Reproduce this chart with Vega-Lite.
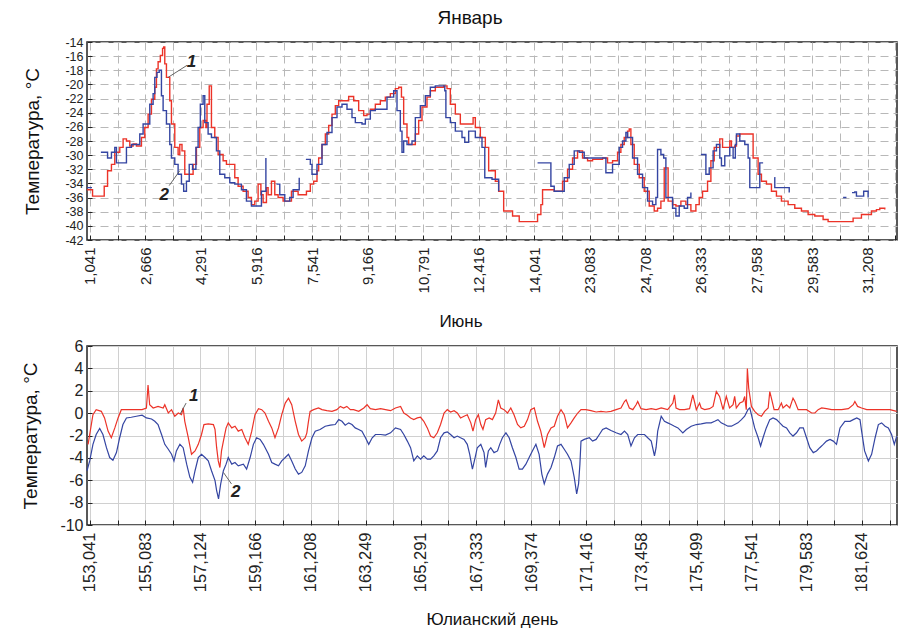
{
  "$schema": "https://vega.github.io/schema/vega-lite/v6.json",
  "background": "white",
  "padding": {"left": 21, "top": 8, "right": 2, "bottom": 0},
  "spacing": 18,
  "config": {
    "font": "Liberation Sans",
    "view": {"stroke": "#222", "strokeWidth": 1.5},
    "axis": {"labelFont": "Liberation Sans", "labelFontSize": 14, "labelColor": "#222", "labelOverlap": false, "tickCount": 100, "titleFont": "Liberation Sans", "titleFontSize": 19, "titleFontWeight": "normal", "titleColor": "#111", "domain": false, "tickColor": "#222", "tickSize": -5, "labelPadding": 9},
    "title": {"font": "Liberation Sans", "fontWeight": "normal", "color": "#111"}
  },
  "datasets": {
    "jan": [
      {"n":-0.5,"t":-34.9,"s":"1"},{"n":0.5,"t":-35.8,"s":"1"},{"n":2.0,"t":-35.8,"s":"1"},{"n":2.6,"t":-34.4,"s":"1"},{"n":3.2,"t":-32.2,"s":"1"},{"n":3.9,"t":-31.3,"s":"1"},{"n":4.5,"t":-29.6,"s":"1"},{"n":5.4,"t":-28.9,"s":"1"},{"n":6.0,"t":-27.7,"s":"1"},{"n":6.6,"t":-28.0,"s":"1"},{"n":7.2,"t":-28.7,"s":"1"},{"n":7.8,"t":-28.4,"s":"1"},{"n":8.4,"t":-28.7,"s":"1"},{"n":9.3,"t":-27.5,"s":"1"},{"n":9.9,"t":-26.1,"s":"1"},{"n":10.5,"t":-24.2,"s":"1"},{"n":11.1,"t":-22.1,"s":"1"},{"n":11.7,"t":-20.4,"s":"1"},{"n":12.0,"t":-17.8,"s":"1"},{"n":12.3,"t":-16.8,"s":"1"},{"n":12.7,"t":-15.9,"s":"1"},{"n":13.1,"t":-14.9,"s":"1"},{"n":13.3,"t":-14.7,"s":"1"},{"n":13.5,"t":-17.1,"s":"1"},{"n":13.8,"t":-19.0,"s":"1"},{"n":14.4,"t":-22.3,"s":"1"},{"n":14.7,"t":-25.6,"s":"1"},{"n":15.3,"t":-28.9,"s":"1"},{"n":15.9,"t":-29.9,"s":"1"},{"n":16.2,"t":-28.5,"s":"1"},{"n":16.6,"t":-29.4,"s":"1"},{"n":17.1,"t":-32.7,"s":"1"},{"n":18.0,"t":-32.7,"s":"1"},{"n":18.6,"t":-31.3,"s":"1"},{"n":19.2,"t":-28.9,"s":"1"},{"n":19.8,"t":-26.1,"s":"1"},{"n":20.4,"t":-25.1,"s":"1"},{"n":20.9,"t":-26.1,"s":"1"},{"n":21.1,"t":-22.8,"s":"1"},{"n":21.5,"t":-20.2,"s":"1"},{"n":21.9,"t":-26.1,"s":"1"},{"n":22.5,"t":-27.5,"s":"1"},{"n":23.1,"t":-29.9,"s":"1"},{"n":24.0,"t":-30.8,"s":"1"},{"n":24.6,"t":-31.3,"s":"1"},{"n":25.2,"t":-31.3,"s":"1"},{"n":26.1,"t":-33.2,"s":"1"},{"n":26.7,"t":-34.4,"s":"1"},{"n":27.6,"t":-35.1,"s":"1"},{"n":28.5,"t":-36.0,"s":"1"},{"n":29.1,"t":-37.0,"s":"1"},{"n":29.7,"t":-36.5,"s":"1"},{"n":30.3,"t":-34.1,"s":"1"},{"n":30.8,"t":-35.6,"s":"1"},{"n":31.2,"t":-36.7,"s":"1"},{"n":31.8,"t":-34.6,"s":"1"},{"n":32.1,"t":-35.6,"s":"1"},{"n":32.7,"t":-33.7,"s":"1"},{"n":33.3,"t":-35.6,"s":"1"},{"n":33.9,"t":-36.0,"s":"1"},{"n":34.8,"t":-36.5,"s":"1"},{"n":35.7,"t":-36.5,"s":"1"},{"n":36.3,"t":-35.1,"s":"1"},{"n":36.9,"t":-35.1,"s":"1"},{"n":37.5,"t":-35.6,"s":"1"},{"n":38.4,"t":-35.6,"s":"1"},{"n":39.0,"t":-35.1,"s":"1"},{"n":39.7,"t":-34.1,"s":"1"},{"n":40.3,"t":-33.7,"s":"1"},{"n":40.9,"t":-32.2,"s":"1"},{"n":41.2,"t":-30.4,"s":"1"},{"n":41.8,"t":-28.5,"s":"1"},{"n":42.4,"t":-27.0,"s":"1"},{"n":43.0,"t":-25.8,"s":"1"},{"n":43.6,"t":-24.2,"s":"1"},{"n":44.2,"t":-23.0,"s":"1"},{"n":44.8,"t":-22.3,"s":"1"},{"n":45.7,"t":-22.3,"s":"1"},{"n":46.6,"t":-21.7,"s":"1"},{"n":47.5,"t":-22.3,"s":"1"},{"n":48.4,"t":-23.7,"s":"1"},{"n":49.3,"t":-24.4,"s":"1"},{"n":49.9,"t":-24.2,"s":"1"},{"n":50.5,"t":-23.5,"s":"1"},{"n":51.4,"t":-22.8,"s":"1"},{"n":52.3,"t":-22.3,"s":"1"},{"n":53.2,"t":-21.8,"s":"1"},{"n":54.1,"t":-21.3,"s":"1"},{"n":55.0,"t":-20.6,"s":"1"},{"n":55.6,"t":-20.4,"s":"1"},{"n":56.1,"t":-21.8,"s":"1"},{"n":56.5,"t":-25.6,"s":"1"},{"n":57.1,"t":-27.5,"s":"1"},{"n":57.4,"t":-28.5,"s":"1"},{"n":58.0,"t":-28.5,"s":"1"},{"n":58.6,"t":-27.0,"s":"1"},{"n":59.2,"t":-25.1,"s":"1"},{"n":59.8,"t":-23.2,"s":"1"},{"n":60.7,"t":-21.8,"s":"1"},{"n":61.3,"t":-20.9,"s":"1"},{"n":62.2,"t":-20.4,"s":"1"},{"n":63.7,"t":-20.2,"s":"1"},{"n":64.3,"t":-20.6,"s":"1"},{"n":64.9,"t":-22.8,"s":"1"},{"n":65.8,"t":-24.2,"s":"1"},{"n":66.7,"t":-25.6,"s":"1"},{"n":67.9,"t":-25.6,"s":"1"},{"n":69.0,"t":-24.7,"s":"1"},{"n":69.4,"t":-26.1,"s":"1"},{"n":70.3,"t":-27.5,"s":"1"},{"n":71.2,"t":-28.9,"s":"1"},{"n":71.8,"t":-32.2,"s":"1"},{"n":73.0,"t":-33.7,"s":"1"},{"n":73.6,"t":-35.1,"s":"1"},{"n":74.5,"t":-37.9,"s":"1"},{"n":75.5,"t":-37.9,"s":"1"},{"n":76.1,"t":-38.6,"s":"1"},{"n":77.3,"t":-39.4,"s":"1"},{"n":79.7,"t":-39.4,"s":"1"},{"n":80.6,"t":-38.4,"s":"1"},{"n":81.2,"t":-37.0,"s":"1"},{"n":81.5,"t":-34.9,"s":"1"},{"n":82.7,"t":-34.9,"s":"1"},{"n":83.6,"t":-35.1,"s":"1"},{"n":84.5,"t":-35.1,"s":"1"},{"n":85.1,"t":-33.7,"s":"1"},{"n":86.0,"t":-32.0,"s":"1"},{"n":86.9,"t":-30.4,"s":"1"},{"n":87.8,"t":-29.4,"s":"1"},{"n":88.7,"t":-30.4,"s":"1"},{"n":89.6,"t":-30.8,"s":"1"},{"n":90.5,"t":-30.6,"s":"1"},{"n":92.3,"t":-30.4,"s":"1"},{"n":93.2,"t":-31.1,"s":"1"},{"n":94.1,"t":-30.8,"s":"1"},{"n":95.0,"t":-29.6,"s":"1"},{"n":95.6,"t":-28.5,"s":"1"},{"n":96.2,"t":-27.5,"s":"1"},{"n":96.8,"t":-26.6,"s":"1"},{"n":97.1,"t":-26.3,"s":"1"},{"n":97.4,"t":-28.5,"s":"1"},{"n":98.0,"t":-31.3,"s":"1"},{"n":98.9,"t":-33.2,"s":"1"},{"n":99.8,"t":-35.1,"s":"1"},{"n":100.7,"t":-37.2,"s":"1"},{"n":101.6,"t":-37.9,"s":"1"},{"n":102.2,"t":-37.5,"s":"1"},{"n":102.8,"t":-36.5,"s":"1"},{"n":103.4,"t":-31.8,"s":"1"},{"n":104.0,"t":-31.8,"s":"1"},{"n":104.1,"t":-36.5,"s":"1"},{"n":104.9,"t":-37.0,"s":"1"},{"n":105.5,"t":-37.2,"s":"1"},{"n":106.4,"t":-36.5,"s":"1"},{"n":107.3,"t":-37.0,"s":"1"},{"n":108.2,"t":-37.9,"s":"1"},{"n":109.1,"t":-37.0,"s":"1"},{"n":109.7,"t":-36.0,"s":"1"},{"n":110.3,"t":-35.1,"s":"1"},{"n":111.2,"t":-33.7,"s":"1"},{"n":111.8,"t":-30.8,"s":"1"},{"n":112.4,"t":-28.9,"s":"1"},{"n":113.4,"t":-27.7,"s":"1"},{"n":113.9,"t":-28.9,"s":"1"},{"n":114.5,"t":-28.9,"s":"1"},{"n":115.2,"t":-28.0,"s":"1"},{"n":115.5,"t":-28.9,"s":"1"},{"n":116.1,"t":-28.7,"s":"1"},{"n":116.4,"t":-27.3,"s":"1"},{"n":117.0,"t":-27.0,"s":"1"},{"n":118.8,"t":-27.0,"s":"1"},{"n":119.4,"t":-30.4,"s":"1"},{"n":120.3,"t":-32.7,"s":"1"},{"n":120.9,"t":-33.7,"s":"1"},{"n":121.8,"t":-34.1,"s":"1"},{"n":122.7,"t":-35.1,"s":"1"},{"n":123.6,"t":-35.8,"s":"1"},{"n":124.5,"t":-36.5,"s":"1"},{"n":125.7,"t":-37.0,"s":"1"},{"n":126.9,"t":-37.5,"s":"1"},{"n":128.1,"t":-37.9,"s":"1"},{"n":129.3,"t":-38.4,"s":"1"},{"n":130.5,"t":-38.6,"s":"1"},{"n":132.0,"t":-39.1,"s":"1"},{"n":132.9,"t":-39.4,"s":"1"},{"n":136.5,"t":-39.4,"s":"1"},{"n":137.4,"t":-38.9,"s":"1"},{"n":138.9,"t":-38.4,"s":"1"},{"n":140.7,"t":-37.9,"s":"1"},{"n":141.6,"t":-37.7,"s":"1"},{"n":142.2,"t":-37.5,"s":"1"},{"n":143.1,"t":-37.7,"s":"1"},
      {"n":-0.5,"t":-34.6,"s":"2"},{"n":0.4,"t":-34.6,"s":"2"},{"n":1.0,"t":null,"s":"2"},{"n":2.0,"t":-29.6,"s":"2"},{"n":2.8,"t":-29.6,"s":"2"},{"n":3.2,"t":-30.4,"s":"2"},{"n":3.9,"t":-29.6,"s":"2"},{"n":4.5,"t":-28.9,"s":"2"},{"n":4.8,"t":-31.1,"s":"2"},{"n":6.4,"t":-31.1,"s":"2"},{"n":6.6,"t":-28.9,"s":"2"},{"n":7.5,"t":-28.5,"s":"2"},{"n":8.4,"t":-28.5,"s":"2"},{"n":9.0,"t":-27.0,"s":"2"},{"n":9.6,"t":-25.6,"s":"2"},{"n":10.8,"t":-22.8,"s":"2"},{"n":11.4,"t":-21.3,"s":"2"},{"n":11.7,"t":-19.0,"s":"2"},{"n":12.1,"t":-18.3,"s":"2"},{"n":12.5,"t":-18.0,"s":"2"},{"n":12.9,"t":-21.6,"s":"2"},{"n":13.2,"t":-23.7,"s":"2"},{"n":13.8,"t":-25.6,"s":"2"},{"n":14.4,"t":-28.5,"s":"2"},{"n":14.7,"t":-30.4,"s":"2"},{"n":15.3,"t":-31.3,"s":"2"},{"n":15.9,"t":-32.7,"s":"2"},{"n":16.5,"t":-34.1,"s":"2"},{"n":16.9,"t":-35.1,"s":"2"},{"n":17.4,"t":-33.7,"s":"2"},{"n":17.9,"t":-31.3,"s":"2"},{"n":18.5,"t":-32.0,"s":"2"},{"n":19.1,"t":-28.9,"s":"2"},{"n":19.5,"t":-26.1,"s":"2"},{"n":19.9,"t":-22.8,"s":"2"},{"n":20.4,"t":-21.6,"s":"2"},{"n":20.7,"t":-25.4,"s":"2"},{"n":21.3,"t":-27.0,"s":"2"},{"n":21.9,"t":-27.5,"s":"2"},{"n":22.8,"t":-29.4,"s":"2"},{"n":23.4,"t":-32.7,"s":"2"},{"n":24.3,"t":-33.2,"s":"2"},{"n":25.2,"t":-33.9,"s":"2"},{"n":26.1,"t":-34.1,"s":"2"},{"n":27.3,"t":-34.9,"s":"2"},{"n":28.2,"t":-36.5,"s":"2"},{"n":29.1,"t":-37.2,"s":"2"},{"n":30.0,"t":-37.2,"s":"2"},{"n":30.9,"t":-35.1,"s":"2"},{"n":31.7,"t":-30.4,"s":"2"},{"n":32.0,"t":null,"s":"2"},{"n":33.6,"t":-34.1,"s":"2"},{"n":34.2,"t":-35.6,"s":"2"},{"n":35.1,"t":-36.5,"s":"2"},{"n":36.0,"t":-36.0,"s":"2"},{"n":36.6,"t":-34.9,"s":"2"},{"n":37.7,"t":-33.2,"s":"2"},{"n":38.0,"t":null,"s":"2"},{"n":38.9,"t":-30.6,"s":"2"},{"n":39.7,"t":-31.3,"s":"2"},{"n":40.0,"t":-32.7,"s":"2"},{"n":40.9,"t":-31.3,"s":"2"},{"n":41.8,"t":-28.5,"s":"2"},{"n":42.7,"t":-26.8,"s":"2"},{"n":43.6,"t":-24.7,"s":"2"},{"n":44.5,"t":-23.2,"s":"2"},{"n":45.4,"t":-22.8,"s":"2"},{"n":46.3,"t":-23.5,"s":"2"},{"n":47.2,"t":-24.7,"s":"2"},{"n":47.8,"t":-25.4,"s":"2"},{"n":49.0,"t":-25.6,"s":"2"},{"n":49.6,"t":-24.9,"s":"2"},{"n":50.5,"t":-23.7,"s":"2"},{"n":51.4,"t":-23.5,"s":"2"},{"n":52.6,"t":-23.5,"s":"2"},{"n":53.5,"t":-21.8,"s":"2"},{"n":54.7,"t":-20.9,"s":"2"},{"n":55.3,"t":-23.7,"s":"2"},{"n":55.9,"t":-26.6,"s":"2"},{"n":56.2,"t":-29.6,"s":"2"},{"n":56.5,"t":-28.0,"s":"2"},{"n":57.1,"t":-28.5,"s":"2"},{"n":58.0,"t":-28.0,"s":"2"},{"n":58.6,"t":-24.7,"s":"2"},{"n":59.5,"t":-23.0,"s":"2"},{"n":60.4,"t":-21.6,"s":"2"},{"n":61.3,"t":-20.4,"s":"2"},{"n":62.2,"t":-20.2,"s":"2"},{"n":63.4,"t":-20.2,"s":"2"},{"n":63.9,"t":-20.9,"s":"2"},{"n":64.1,"t":-24.7,"s":"2"},{"n":64.9,"t":-25.4,"s":"2"},{"n":65.8,"t":-26.6,"s":"2"},{"n":67.0,"t":-27.5,"s":"2"},{"n":67.5,"t":-28.2,"s":"2"},{"n":68.2,"t":-26.6,"s":"2"},{"n":69.4,"t":-27.5,"s":"2"},{"n":70.6,"t":-28.9,"s":"2"},{"n":71.1,"t":-33.2,"s":"2"},{"n":72.4,"t":-33.4,"s":"2"},{"n":73.6,"t":-35.1,"s":"2"},{"n":74.0,"t":null,"s":"2"},{"n":80.6,"t":-31.1,"s":"2"},{"n":82.4,"t":-31.1,"s":"2"},{"n":83.0,"t":-34.4,"s":"2"},{"n":83.6,"t":-35.1,"s":"2"},{"n":84.5,"t":-35.1,"s":"2"},{"n":85.4,"t":-33.2,"s":"2"},{"n":86.3,"t":-31.3,"s":"2"},{"n":87.2,"t":-29.4,"s":"2"},{"n":88.1,"t":-29.6,"s":"2"},{"n":89.0,"t":-30.4,"s":"2"},{"n":92.3,"t":-30.4,"s":"2"},{"n":92.9,"t":-32.5,"s":"2"},{"n":93.8,"t":-32.5,"s":"2"},{"n":94.1,"t":-31.3,"s":"2"},{"n":95.3,"t":-28.9,"s":"2"},{"n":95.9,"t":-28.0,"s":"2"},{"n":96.5,"t":-26.8,"s":"2"},{"n":96.8,"t":-27.5,"s":"2"},{"n":97.7,"t":-30.4,"s":"2"},{"n":98.6,"t":-32.7,"s":"2"},{"n":99.5,"t":-34.6,"s":"2"},{"n":100.4,"t":-36.5,"s":"2"},{"n":101.3,"t":-37.0,"s":"2"},{"n":101.9,"t":-36.0,"s":"2"},{"n":102.2,"t":-29.2,"s":"2"},{"n":102.8,"t":-29.9,"s":"2"},{"n":103.3,"t":-30.4,"s":"2"},{"n":103.7,"t":-36.0,"s":"2"},{"n":104.9,"t":-37.5,"s":"2"},{"n":105.5,"t":-38.6,"s":"2"},{"n":106.1,"t":-37.2,"s":"2"},{"n":107.0,"t":-37.5,"s":"2"},{"n":107.6,"t":-36.0,"s":"2"},{"n":108.2,"t":-35.3,"s":"2"},{"n":108.6,"t":null,"s":"2"},{"n":110.0,"t":-29.9,"s":"2"},{"n":110.9,"t":-32.7,"s":"2"},{"n":111.5,"t":-31.8,"s":"2"},{"n":112.2,"t":-29.4,"s":"2"},{"n":112.8,"t":-28.5,"s":"2"},{"n":113.4,"t":-30.4,"s":"2"},{"n":113.7,"t":-31.5,"s":"2"},{"n":114.3,"t":-30.1,"s":"2"},{"n":115.2,"t":-28.9,"s":"2"},{"n":115.8,"t":-30.4,"s":"2"},{"n":116.2,"t":-28.5,"s":"2"},{"n":116.4,"t":-27.0,"s":"2"},{"n":117.0,"t":-28.0,"s":"2"},{"n":117.9,"t":-28.5,"s":"2"},{"n":118.5,"t":-30.4,"s":"2"},{"n":118.8,"t":-34.6,"s":"2"},{"n":120.3,"t":-34.6,"s":"2"},{"n":120.6,"t":-31.1,"s":"2"},{"n":121.2,"t":-31.1,"s":"2"},{"n":121.5,"t":null,"s":"2"},{"n":123.2,"t":-33.2,"s":"2"},{"n":123.3,"t":-34.6,"s":"2"},{"n":125.8,"t":-34.6,"s":"2"},{"n":125.9,"t":-35.3,"s":"2"},{"n":126.2,"t":null,"s":"2"},{"n":135.6,"t":-36.0,"s":"2"},{"n":136.2,"t":-36.0,"s":"2"},{"n":136.5,"t":null,"s":"2"},{"n":137.2,"t":-35.3,"s":"2"},{"n":137.7,"t":-35.2,"s":"2"},{"n":138.0,"t":-35.8,"s":"2"},{"n":138.9,"t":-35.8,"s":"2"},{"n":139.3,"t":-35.1,"s":"2"},{"n":139.8,"t":-35.1,"s":"2"},{"n":140.1,"t":-36.0,"s":"2"}
    ],
    "jun": [
      {"d":152.97,"t":-2.79,"s":"1"},{"d":153.15,"t":-0.14,"s":"1"},{"d":153.27,"t":0.31,"s":"1"},{"d":153.46,"t":0.16,"s":"1"},{"d":153.58,"t":-0.43,"s":"1"},{"d":153.71,"t":-1.61,"s":"1"},{"d":153.83,"t":-2.2,"s":"1"},{"d":153.96,"t":-1.32,"s":"1"},{"d":154.08,"t":-0.43,"s":"1"},{"d":154.2,"t":0.31,"s":"1"},{"d":154.39,"t":0.31,"s":"1"},{"d":154.64,"t":0.31,"s":"1"},{"d":154.97,"t":0.31,"s":"1"},{"d":155.13,"t":0.46,"s":"1"},{"d":155.19,"t":2.52,"s":"1"},{"d":155.25,"t":0.75,"s":"1"},{"d":155.38,"t":0.46,"s":"1"},{"d":155.56,"t":0.6,"s":"1"},{"d":155.75,"t":0.46,"s":"1"},{"d":155.81,"t":0.75,"s":"1"},{"d":155.94,"t":0.01,"s":"1"},{"d":156.06,"t":0.31,"s":"1"},{"d":156.18,"t":-0.28,"s":"1"},{"d":156.31,"t":0.01,"s":"1"},{"d":156.43,"t":-0.14,"s":"1"},{"d":156.49,"t":0.46,"s":"1"},{"d":156.55,"t":-0.73,"s":"1"},{"d":156.68,"t":-2.2,"s":"1"},{"d":156.8,"t":-3.68,"s":"1"},{"d":156.93,"t":-3.38,"s":"1"},{"d":157.05,"t":-2.79,"s":"1"},{"d":157.17,"t":-1.91,"s":"1"},{"d":157.26,"t":-1.02,"s":"1"},{"d":157.42,"t":-0.96,"s":"1"},{"d":157.61,"t":-1.02,"s":"1"},{"d":157.67,"t":-1.46,"s":"1"},{"d":157.73,"t":-3.09,"s":"1"},{"d":157.79,"t":-4.27,"s":"1"},{"d":157.85,"t":-4.86,"s":"1"},{"d":157.91,"t":-3.38,"s":"1"},{"d":157.98,"t":-2.5,"s":"1"},{"d":158.08,"t":-1.32,"s":"1"},{"d":158.16,"t":-0.87,"s":"1"},{"d":158.29,"t":-1.32,"s":"1"},{"d":158.41,"t":-1.17,"s":"1"},{"d":158.53,"t":-1.61,"s":"1"},{"d":158.66,"t":-1.46,"s":"1"},{"d":158.78,"t":-2.2,"s":"1"},{"d":158.9,"t":-2.79,"s":"1"},{"d":159.03,"t":-1.61,"s":"1"},{"d":159.15,"t":-0.14,"s":"1"},{"d":159.28,"t":0.4,"s":"1"},{"d":159.4,"t":0.31,"s":"1"},{"d":159.52,"t":0.01,"s":"1"},{"d":159.65,"t":-0.73,"s":"1"},{"d":159.77,"t":-1.32,"s":"1"},{"d":159.89,"t":-2.2,"s":"1"},{"d":160.02,"t":-1.32,"s":"1"},{"d":160.14,"t":-0.14,"s":"1"},{"d":160.27,"t":0.9,"s":"1"},{"d":160.39,"t":1.34,"s":"1"},{"d":160.51,"t":0.75,"s":"1"},{"d":160.64,"t":-0.73,"s":"1"},{"d":160.76,"t":-1.91,"s":"1"},{"d":160.88,"t":-2.5,"s":"1"},{"d":161.01,"t":-2.2,"s":"1"},{"d":161.07,"t":-1.76,"s":"1"},{"d":161.13,"t":-0.73,"s":"1"},{"d":161.19,"t":0.16,"s":"1"},{"d":161.32,"t":0.31,"s":"1"},{"d":161.5,"t":0.46,"s":"1"},{"d":161.63,"t":0.31,"s":"1"},{"d":161.81,"t":0.22,"s":"1"},{"d":162.0,"t":0.16,"s":"1"},{"d":162.18,"t":0.31,"s":"1"},{"d":162.31,"t":0.6,"s":"1"},{"d":162.43,"t":0.46,"s":"1"},{"d":162.55,"t":0.6,"s":"1"},{"d":162.68,"t":0.31,"s":"1"},{"d":162.8,"t":0.31,"s":"1"},{"d":162.99,"t":0.16,"s":"1"},{"d":163.18,"t":0.46,"s":"1"},{"d":163.3,"t":0.75,"s":"1"},{"d":163.42,"t":0.4,"s":"1"},{"d":163.61,"t":0.31,"s":"1"},{"d":163.8,"t":0.4,"s":"1"},{"d":163.98,"t":0.31,"s":"1"},{"d":164.17,"t":0.22,"s":"1"},{"d":164.35,"t":0.46,"s":"1"},{"d":164.54,"t":0.6,"s":"1"},{"d":164.66,"t":0.01,"s":"1"},{"d":164.79,"t":-0.19,"s":"1"},{"d":164.91,"t":-0.43,"s":"1"},{"d":165.03,"t":-0.58,"s":"1"},{"d":165.16,"t":-0.43,"s":"1"},{"d":165.28,"t":-0.37,"s":"1"},{"d":165.4,"t":-0.73,"s":"1"},{"d":165.53,"t":-1.32,"s":"1"},{"d":165.65,"t":-2.05,"s":"1"},{"d":165.77,"t":-2.2,"s":"1"},{"d":165.9,"t":-1.76,"s":"1"},{"d":166.02,"t":-1.02,"s":"1"},{"d":166.15,"t":0.01,"s":"1"},{"d":166.27,"t":0.31,"s":"1"},{"d":166.39,"t":0.1,"s":"1"},{"d":166.52,"t":0.22,"s":"1"},{"d":166.64,"t":0.01,"s":"1"},{"d":166.76,"t":-0.43,"s":"1"},{"d":166.89,"t":-0.28,"s":"1"},{"d":167.01,"t":-0.14,"s":"1"},{"d":167.14,"t":-0.87,"s":"1"},{"d":167.22,"t":-1.61,"s":"1"},{"d":167.32,"t":-0.58,"s":"1"},{"d":167.42,"t":-0.14,"s":"1"},{"d":167.51,"t":-1.02,"s":"1"},{"d":167.59,"t":-1.46,"s":"1"},{"d":167.69,"t":-0.58,"s":"1"},{"d":167.82,"t":-0.43,"s":"1"},{"d":167.94,"t":-0.58,"s":"1"},{"d":168.06,"t":0.01,"s":"1"},{"d":168.16,"t":1.19,"s":"1"},{"d":168.25,"t":0.46,"s":"1"},{"d":168.37,"t":0.31,"s":"1"},{"d":168.5,"t":0.01,"s":"1"},{"d":168.62,"t":0.46,"s":"1"},{"d":168.74,"t":-0.14,"s":"1"},{"d":168.87,"t":-1.02,"s":"1"},{"d":168.99,"t":-1.32,"s":"1"},{"d":169.12,"t":-1.17,"s":"1"},{"d":169.24,"t":-0.58,"s":"1"},{"d":169.36,"t":0.31,"s":"1"},{"d":169.49,"t":0.46,"s":"1"},{"d":169.61,"t":-0.73,"s":"1"},{"d":169.73,"t":-1.61,"s":"1"},{"d":169.86,"t":-3.09,"s":"1"},{"d":169.98,"t":-1.91,"s":"1"},{"d":170.11,"t":-1.32,"s":"1"},{"d":170.23,"t":-1.17,"s":"1"},{"d":170.35,"t":-0.28,"s":"1"},{"d":170.48,"t":0.31,"s":"1"},{"d":170.6,"t":-0.14,"s":"1"},{"d":170.72,"t":-1.32,"s":"1"},{"d":170.85,"t":-0.87,"s":"1"},{"d":170.97,"t":-0.43,"s":"1"},{"d":171.1,"t":0.01,"s":"1"},{"d":171.22,"t":0.31,"s":"1"},{"d":171.4,"t":0.31,"s":"1"},{"d":171.59,"t":0.22,"s":"1"},{"d":171.78,"t":0.1,"s":"1"},{"d":171.96,"t":0.16,"s":"1"},{"d":172.15,"t":0.1,"s":"1"},{"d":172.33,"t":0.16,"s":"1"},{"d":172.52,"t":0.31,"s":"1"},{"d":172.7,"t":0.46,"s":"1"},{"d":172.83,"t":1.04,"s":"1"},{"d":172.89,"t":1.19,"s":"1"},{"d":173.01,"t":0.46,"s":"1"},{"d":173.14,"t":0.31,"s":"1"},{"d":173.26,"t":0.75,"s":"1"},{"d":173.32,"t":1.04,"s":"1"},{"d":173.44,"t":0.4,"s":"1"},{"d":173.63,"t":0.31,"s":"1"},{"d":173.82,"t":0.4,"s":"1"},{"d":174.0,"t":0.31,"s":"1"},{"d":174.19,"t":0.46,"s":"1"},{"d":174.43,"t":0.31,"s":"1"},{"d":174.62,"t":0.9,"s":"1"},{"d":174.68,"t":1.63,"s":"1"},{"d":174.74,"t":0.46,"s":"1"},{"d":174.87,"t":0.31,"s":"1"},{"d":175.05,"t":0.31,"s":"1"},{"d":175.24,"t":0.4,"s":"1"},{"d":175.36,"t":1.63,"s":"1"},{"d":175.42,"t":1.04,"s":"1"},{"d":175.49,"t":0.31,"s":"1"},{"d":175.61,"t":0.9,"s":"1"},{"d":175.67,"t":0.46,"s":"1"},{"d":175.8,"t":0.31,"s":"1"},{"d":175.98,"t":0.4,"s":"1"},{"d":176.11,"t":0.6,"s":"1"},{"d":176.23,"t":1.93,"s":"1"},{"d":176.35,"t":1.49,"s":"1"},{"d":176.48,"t":0.31,"s":"1"},{"d":176.6,"t":1.49,"s":"1"},{"d":176.72,"t":0.46,"s":"1"},{"d":176.85,"t":0.75,"s":"1"},{"d":176.91,"t":1.49,"s":"1"},{"d":176.97,"t":0.46,"s":"1"},{"d":177.1,"t":0.9,"s":"1"},{"d":177.22,"t":1.04,"s":"1"},{"d":177.28,"t":1.49,"s":"1"},{"d":177.34,"t":0.31,"s":"1"},{"d":177.38,"t":3.99,"s":"1"},{"d":177.43,"t":2.22,"s":"1"},{"d":177.53,"t":0.6,"s":"1"},{"d":177.65,"t":0.16,"s":"1"},{"d":177.78,"t":-0.14,"s":"1"},{"d":177.9,"t":-0.28,"s":"1"},{"d":178.02,"t":0.16,"s":"1"},{"d":178.15,"t":0.46,"s":"1"},{"d":178.21,"t":1.93,"s":"1"},{"d":178.27,"t":1.34,"s":"1"},{"d":178.37,"t":0.31,"s":"1"},{"d":178.52,"t":0.31,"s":"1"},{"d":178.64,"t":0.9,"s":"1"},{"d":178.7,"t":0.46,"s":"1"},{"d":178.83,"t":0.75,"s":"1"},{"d":178.95,"t":0.46,"s":"1"},{"d":179.07,"t":1.34,"s":"1"},{"d":179.14,"t":1.04,"s":"1"},{"d":179.26,"t":0.31,"s":"1"},{"d":179.38,"t":0.31,"s":"1"},{"d":179.57,"t":0.31,"s":"1"},{"d":179.76,"t":0.01,"s":"1"},{"d":179.88,"t":0.01,"s":"1"},{"d":180.0,"t":0.31,"s":"1"},{"d":180.13,"t":0.46,"s":"1"},{"d":180.31,"t":0.4,"s":"1"},{"d":180.5,"t":0.31,"s":"1"},{"d":180.68,"t":0.31,"s":"1"},{"d":180.87,"t":0.31,"s":"1"},{"d":181.12,"t":0.4,"s":"1"},{"d":181.3,"t":0.75,"s":"1"},{"d":181.36,"t":1.04,"s":"1"},{"d":181.46,"t":0.6,"s":"1"},{"d":181.61,"t":0.46,"s":"1"},{"d":181.8,"t":0.31,"s":"1"},{"d":181.98,"t":0.31,"s":"1"},{"d":182.23,"t":0.31,"s":"1"},{"d":182.48,"t":0.31,"s":"1"},{"d":182.66,"t":0.31,"s":"1"},{"d":182.91,"t":0.16,"s":"1"},
      {"d":152.93,"t":-5.15,"s":"2"},{"d":153.03,"t":-4.27,"s":"2"},{"d":153.15,"t":-2.79,"s":"2"},{"d":153.27,"t":-1.91,"s":"2"},{"d":153.4,"t":-1.37,"s":"2"},{"d":153.52,"t":-1.91,"s":"2"},{"d":153.65,"t":-3.09,"s":"2"},{"d":153.77,"t":-3.97,"s":"2"},{"d":153.89,"t":-4.21,"s":"2"},{"d":154.02,"t":-3.53,"s":"2"},{"d":154.14,"t":-2.2,"s":"2"},{"d":154.26,"t":-1.02,"s":"2"},{"d":154.39,"t":-0.43,"s":"2"},{"d":154.57,"t":-0.37,"s":"2"},{"d":154.76,"t":-0.28,"s":"2"},{"d":154.97,"t":-0.19,"s":"2"},{"d":155.13,"t":-0.43,"s":"2"},{"d":155.32,"t":-0.52,"s":"2"},{"d":155.44,"t":-0.73,"s":"2"},{"d":155.56,"t":-1.02,"s":"2"},{"d":155.69,"t":-1.91,"s":"2"},{"d":155.81,"t":-2.79,"s":"2"},{"d":155.94,"t":-3.23,"s":"2"},{"d":156.06,"t":-3.68,"s":"2"},{"d":156.15,"t":-4.27,"s":"2"},{"d":156.24,"t":-3.38,"s":"2"},{"d":156.37,"t":-2.79,"s":"2"},{"d":156.49,"t":-3.09,"s":"2"},{"d":156.62,"t":-4.56,"s":"2"},{"d":156.74,"t":-5.74,"s":"2"},{"d":156.84,"t":-6.18,"s":"2"},{"d":156.93,"t":-5.15,"s":"2"},{"d":157.05,"t":-3.97,"s":"2"},{"d":157.17,"t":-3.68,"s":"2"},{"d":157.3,"t":-3.97,"s":"2"},{"d":157.42,"t":-4.27,"s":"2"},{"d":157.54,"t":-5.15,"s":"2"},{"d":157.67,"t":-6.03,"s":"2"},{"d":157.73,"t":-6.92,"s":"2"},{"d":157.8,"t":-7.66,"s":"2"},{"d":157.88,"t":-6.33,"s":"2"},{"d":157.98,"t":-5.15,"s":"2"},{"d":158.08,"t":-4.56,"s":"2"},{"d":158.16,"t":-3.97,"s":"2"},{"d":158.29,"t":-4.56,"s":"2"},{"d":158.41,"t":-4.41,"s":"2"},{"d":158.53,"t":-4.71,"s":"2"},{"d":158.72,"t":-4.56,"s":"2"},{"d":158.84,"t":-5.0,"s":"2"},{"d":158.97,"t":-3.97,"s":"2"},{"d":159.09,"t":-2.79,"s":"2"},{"d":159.21,"t":-2.2,"s":"2"},{"d":159.34,"t":-2.35,"s":"2"},{"d":159.46,"t":-2.79,"s":"2"},{"d":159.65,"t":-3.68,"s":"2"},{"d":159.77,"t":-4.41,"s":"2"},{"d":159.89,"t":-4.56,"s":"2"},{"d":160.02,"t":-4.71,"s":"2"},{"d":160.14,"t":-4.27,"s":"2"},{"d":160.27,"t":-3.97,"s":"2"},{"d":160.39,"t":-3.68,"s":"2"},{"d":160.51,"t":-4.27,"s":"2"},{"d":160.64,"t":-5.0,"s":"2"},{"d":160.76,"t":-5.45,"s":"2"},{"d":160.88,"t":-5.3,"s":"2"},{"d":161.01,"t":-4.71,"s":"2"},{"d":161.13,"t":-3.38,"s":"2"},{"d":161.26,"t":-2.2,"s":"2"},{"d":161.38,"t":-1.61,"s":"2"},{"d":161.56,"t":-1.46,"s":"2"},{"d":161.75,"t":-1.17,"s":"2"},{"d":161.94,"t":-1.08,"s":"2"},{"d":162.12,"t":-1.02,"s":"2"},{"d":162.25,"t":-0.58,"s":"2"},{"d":162.37,"t":-0.73,"s":"2"},{"d":162.49,"t":-1.08,"s":"2"},{"d":162.62,"t":-0.87,"s":"2"},{"d":162.74,"t":-1.02,"s":"2"},{"d":162.86,"t":-1.32,"s":"2"},{"d":162.99,"t":-1.46,"s":"2"},{"d":163.11,"t":-1.61,"s":"2"},{"d":163.24,"t":-2.2,"s":"2"},{"d":163.36,"t":-2.79,"s":"2"},{"d":163.49,"t":-2.2,"s":"2"},{"d":163.61,"t":-1.91,"s":"2"},{"d":163.8,"t":-1.91,"s":"2"},{"d":163.98,"t":-1.96,"s":"2"},{"d":164.17,"t":-1.76,"s":"2"},{"d":164.35,"t":-1.32,"s":"2"},{"d":164.54,"t":-1.46,"s":"2"},{"d":164.66,"t":-1.91,"s":"2"},{"d":164.79,"t":-2.5,"s":"2"},{"d":164.91,"t":-3.09,"s":"2"},{"d":165.03,"t":-4.27,"s":"2"},{"d":165.16,"t":-3.82,"s":"2"},{"d":165.28,"t":-4.12,"s":"2"},{"d":165.4,"t":-3.82,"s":"2"},{"d":165.53,"t":-4.12,"s":"2"},{"d":165.65,"t":-4.12,"s":"2"},{"d":165.77,"t":-3.82,"s":"2"},{"d":165.9,"t":-3.38,"s":"2"},{"d":166.02,"t":-2.2,"s":"2"},{"d":166.15,"t":-1.76,"s":"2"},{"d":166.27,"t":-1.67,"s":"2"},{"d":166.39,"t":-1.91,"s":"2"},{"d":166.52,"t":-2.2,"s":"2"},{"d":166.64,"t":-2.05,"s":"2"},{"d":166.76,"t":-2.2,"s":"2"},{"d":166.89,"t":-2.35,"s":"2"},{"d":167.01,"t":-2.79,"s":"2"},{"d":167.1,"t":-3.68,"s":"2"},{"d":167.2,"t":-5.0,"s":"2"},{"d":167.3,"t":-3.97,"s":"2"},{"d":167.38,"t":-3.09,"s":"2"},{"d":167.51,"t":-2.79,"s":"2"},{"d":167.63,"t":-3.53,"s":"2"},{"d":167.69,"t":-4.86,"s":"2"},{"d":167.79,"t":-3.38,"s":"2"},{"d":167.88,"t":-3.09,"s":"2"},{"d":168.0,"t":-3.53,"s":"2"},{"d":168.13,"t":-3.38,"s":"2"},{"d":168.21,"t":-2.79,"s":"2"},{"d":168.31,"t":-2.2,"s":"2"},{"d":168.44,"t":-1.76,"s":"2"},{"d":168.56,"t":-2.2,"s":"2"},{"d":168.68,"t":-3.09,"s":"2"},{"d":168.81,"t":-3.97,"s":"2"},{"d":168.93,"t":-5.0,"s":"2"},{"d":169.05,"t":-5.0,"s":"2"},{"d":169.18,"t":-4.56,"s":"2"},{"d":169.3,"t":-3.97,"s":"2"},{"d":169.42,"t":-3.38,"s":"2"},{"d":169.55,"t":-2.79,"s":"2"},{"d":169.67,"t":-3.68,"s":"2"},{"d":169.77,"t":-5.45,"s":"2"},{"d":169.86,"t":-6.33,"s":"2"},{"d":169.98,"t":-5.45,"s":"2"},{"d":170.11,"t":-4.86,"s":"2"},{"d":170.23,"t":-3.97,"s":"2"},{"d":170.35,"t":-2.94,"s":"2"},{"d":170.48,"t":-2.79,"s":"2"},{"d":170.6,"t":-3.23,"s":"2"},{"d":170.72,"t":-3.68,"s":"2"},{"d":170.85,"t":-4.27,"s":"2"},{"d":170.97,"t":-5.74,"s":"2"},{"d":171.06,"t":-7.22,"s":"2"},{"d":171.13,"t":-6.33,"s":"2"},{"d":171.18,"t":-4.56,"s":"2"},{"d":171.22,"t":-2.5,"s":"2"},{"d":171.34,"t":-2.35,"s":"2"},{"d":171.53,"t":-2.2,"s":"2"},{"d":171.65,"t":-2.5,"s":"2"},{"d":171.78,"t":-2.35,"s":"2"},{"d":171.9,"t":-1.91,"s":"2"},{"d":172.02,"t":-1.46,"s":"2"},{"d":172.15,"t":-1.32,"s":"2"},{"d":172.33,"t":-1.55,"s":"2"},{"d":172.52,"t":-1.76,"s":"2"},{"d":172.7,"t":-1.91,"s":"2"},{"d":172.83,"t":-1.61,"s":"2"},{"d":172.95,"t":-1.91,"s":"2"},{"d":173.07,"t":-2.94,"s":"2"},{"d":173.2,"t":-2.2,"s":"2"},{"d":173.32,"t":-1.91,"s":"2"},{"d":173.44,"t":-1.91,"s":"2"},{"d":173.57,"t":-1.91,"s":"2"},{"d":173.69,"t":-2.2,"s":"2"},{"d":173.82,"t":-2.5,"s":"2"},{"d":173.94,"t":-3.82,"s":"2"},{"d":174.0,"t":-3.09,"s":"2"},{"d":174.06,"t":-1.61,"s":"2"},{"d":174.19,"t":-0.28,"s":"2"},{"d":174.31,"t":-0.73,"s":"2"},{"d":174.43,"t":-0.87,"s":"2"},{"d":174.56,"t":-1.02,"s":"2"},{"d":174.68,"t":-1.17,"s":"2"},{"d":174.81,"t":-1.32,"s":"2"},{"d":174.99,"t":-1.76,"s":"2"},{"d":175.12,"t":-1.46,"s":"2"},{"d":175.3,"t":-1.17,"s":"2"},{"d":175.49,"t":-1.02,"s":"2"},{"d":175.67,"t":-0.96,"s":"2"},{"d":175.86,"t":-0.87,"s":"2"},{"d":176.04,"t":-0.87,"s":"2"},{"d":176.17,"t":-0.73,"s":"2"},{"d":176.29,"t":-0.58,"s":"2"},{"d":176.41,"t":-0.87,"s":"2"},{"d":176.54,"t":-1.02,"s":"2"},{"d":176.66,"t":-1.17,"s":"2"},{"d":176.79,"t":-1.17,"s":"2"},{"d":176.91,"t":-1.02,"s":"2"},{"d":177.03,"t":-0.87,"s":"2"},{"d":177.16,"t":-0.58,"s":"2"},{"d":177.28,"t":-0.28,"s":"2"},{"d":177.4,"t":0.31,"s":"2"},{"d":177.47,"t":0.46,"s":"2"},{"d":177.53,"t":-0.14,"s":"2"},{"d":177.65,"t":-1.32,"s":"2"},{"d":177.78,"t":-2.2,"s":"2"},{"d":177.87,"t":-2.94,"s":"2"},{"d":177.96,"t":-2.2,"s":"2"},{"d":178.08,"t":-1.32,"s":"2"},{"d":178.21,"t":-0.58,"s":"2"},{"d":178.33,"t":-0.43,"s":"2"},{"d":178.46,"t":-0.58,"s":"2"},{"d":178.58,"t":-0.87,"s":"2"},{"d":178.7,"t":-1.17,"s":"2"},{"d":178.83,"t":-1.32,"s":"2"},{"d":178.95,"t":-1.76,"s":"2"},{"d":179.07,"t":-2.05,"s":"2"},{"d":179.2,"t":-1.76,"s":"2"},{"d":179.32,"t":-1.32,"s":"2"},{"d":179.45,"t":-1.32,"s":"2"},{"d":179.57,"t":-2.2,"s":"2"},{"d":179.69,"t":-3.09,"s":"2"},{"d":179.82,"t":-3.53,"s":"2"},{"d":179.94,"t":-3.38,"s":"2"},{"d":180.06,"t":-3.09,"s":"2"},{"d":180.19,"t":-2.79,"s":"2"},{"d":180.31,"t":-2.5,"s":"2"},{"d":180.44,"t":-2.35,"s":"2"},{"d":180.56,"t":-2.5,"s":"2"},{"d":180.68,"t":-2.79,"s":"2"},{"d":180.81,"t":-1.32,"s":"2"},{"d":180.99,"t":-0.73,"s":"2"},{"d":181.18,"t":-0.73,"s":"2"},{"d":181.3,"t":-0.58,"s":"2"},{"d":181.43,"t":-0.43,"s":"2"},{"d":181.55,"t":-0.58,"s":"2"},{"d":181.61,"t":-1.61,"s":"2"},{"d":181.72,"t":-3.38,"s":"2"},{"d":181.86,"t":-4.27,"s":"2"},{"d":181.98,"t":-3.68,"s":"2"},{"d":182.11,"t":-2.2,"s":"2"},{"d":182.23,"t":-1.02,"s":"2"},{"d":182.35,"t":-0.87,"s":"2"},{"d":182.48,"t":-1.17,"s":"2"},{"d":182.6,"t":-1.32,"s":"2"},{"d":182.72,"t":-1.91,"s":"2"},{"d":182.82,"t":-2.79,"s":"2"},{"d":182.91,"t":-2.05,"s":"2"}
    ],
    "janLab": [{"x":18.3,"y":-16.8,"label":"1"},{"x":13.4,"y":-35.7,"label":"2"}],
    "janLead": [{"x":17.5,"y":-17.3,"x2":14.1,"y2":-19.0},{"x":14.3,"y":-34.3,"x2":16.2,"y2":-32.2}],
    "junLab": [{"x":156.88,"y":1.5,"label":"1"},{"x":158.44,"y":-7.05,"label":"2"}],
    "junLead": [{"x":156.6,"y":0.9,"x2":156.38,"y2":-0.08},{"x":158.28,"y":-6.33,"x2":157.98,"y2":-5.3}]
  },
  "vconcat": [
    {
      "title": {"text": "Январь", "offset": 8, "dx": -22, "fontSize": 19},
      "width": 810,
      "height": 198,
      "layer": [
        {
          "data": {"name": "jan"},
          "mark": {"type": "line", "interpolate": "step-after", "strokeWidth": 1.4, "invalid": "break-paths-show-domains"},
          "encoding": {
            "x": {"field": "n", "type": "quantitative", "scale": {"domain": [-0.5, 145.3], "nice": false, "zero": false},
              "axis": {"title": null, "values": [0,5,10,15,20,25,30,35,40,45,50,55,60,65,70,75,80,85,90,95,100,105,110,115,120,125,130,135,140,145], "labelAngle": -90, "labelFontSize": 15, "labelPadding": 12, "labelExpr": "datum.value % 10 === 0 ? ['1,041','2,666','4,291','5,916','7,541','9,166','10,791','12,416','14,041','23,083','24,708','26,333','27,958','29,583','31,208'][datum.value / 10] : ''", "grid": true, "gridDash": [8, 5], "gridColor": "#b8b8b8"}},
            "y": {"field": "t", "type": "quantitative", "scale": {"domain": [-42, -14], "nice": false, "zero": false},
              "axis": {"title": "Температура, °C", "values": [-42,-40,-38,-36,-34,-32,-30,-28,-26,-24,-22,-20,-18,-16,-14], "labelExpr": "datum.value + ''", "labelFontSize": 12.5, "grid": true, "gridDash": [8, 5], "gridColor": "#b8b8b8", "titlePadding": 22}},
            "color": {"field": "s", "type": "nominal", "scale": {"domain": ["2", "1"], "range": ["#3445a2", "#ec3328"]}, "legend": null},
            "order": {"field": "s", "sort": "descending"}
          }
        },
        {
          "data": {"name": "janLead"},
          "mark": {"type": "rule", "color": "#555", "strokeWidth": 0.9},
          "encoding": {"x": {"field": "x", "type": "quantitative"}, "y": {"field": "y", "type": "quantitative"}, "x2": {"field": "x2"}, "y2": {"field": "y2"}}
        },
        {
          "data": {"name": "janLab"},
          "mark": {"type": "text", "fontSize": 17, "fontWeight": "bold", "fontStyle": "italic", "color": "#222"},
          "encoding": {"x": {"field": "x", "type": "quantitative"}, "y": {"field": "y", "type": "quantitative"}, "text": {"field": "label"}}
        }
      ]
    },
    {
      "title": {"text": "Июнь", "offset": 7, "dx": -31, "fontSize": 17},
      "width": 810,
      "height": 179,
      "layer": [
        {
          "data": {"name": "jun"},
          "mark": {"type": "line", "strokeWidth": 1.2},
          "encoding": {
            "x": {"field": "d", "type": "quantitative", "scale": {"domain": [152.93, 182.92], "nice": false, "zero": false},
              "axis": {"title": "Юлианский день", "titleFontSize": 17, "titlePadding": 20, "values": [153.041,154.062,155.083,156.103,157.124,158.145,159.166,160.187,161.208,162.228,163.249,164.27,165.291,166.312,167.333,168.353,169.374,170.395,171.416,172.437,173.458,174.478,175.499,176.52,177.541,178.562,179.583,180.603,181.624,182.645], "labelAngle": -90, "labelFontSize": 16.5, "labelPadding": 12, "labelExpr": "indexof(['153.041','155.083','157.124','159.166','161.208','163.249','165.291','167.333','169.374','171.416','173.458','175.499','177.541','179.583','181.624'], format(datum.value, '.3f')) >= 0 ? replace(format(datum.value, '.3f'), '.', ',') : ''", "grid": true, "gridColor": "#d0d0d0"}},
            "y": {"field": "t", "type": "quantitative", "scale": {"domain": [-10, 6], "nice": false, "zero": false},
              "axis": {"title": "Температура, °C", "values": [-10,-8,-6,-4,-2,0,2,4,6], "labelExpr": "datum.value + ''", "labelFontSize": 16, "grid": true, "gridColor": "#d0d0d0", "titlePadding": 19}},
            "color": {"field": "s", "type": "nominal", "scale": {"domain": ["2", "1"], "range": ["#2f3a8e", "#d83a36"]}, "legend": null}
          }
        },
        {
          "data": {"name": "junLead"},
          "mark": {"type": "rule", "color": "#555", "strokeWidth": 0.9},
          "encoding": {"x": {"field": "x", "type": "quantitative"}, "y": {"field": "y", "type": "quantitative"}, "x2": {"field": "x2"}, "y2": {"field": "y2"}}
        },
        {
          "data": {"name": "junLab"},
          "mark": {"type": "text", "fontSize": 17, "fontWeight": "bold", "fontStyle": "italic", "color": "#222"},
          "encoding": {"x": {"field": "x", "type": "quantitative"}, "y": {"field": "y", "type": "quantitative"}, "text": {"field": "label"}}
        }
      ]
    }
  ]
}
